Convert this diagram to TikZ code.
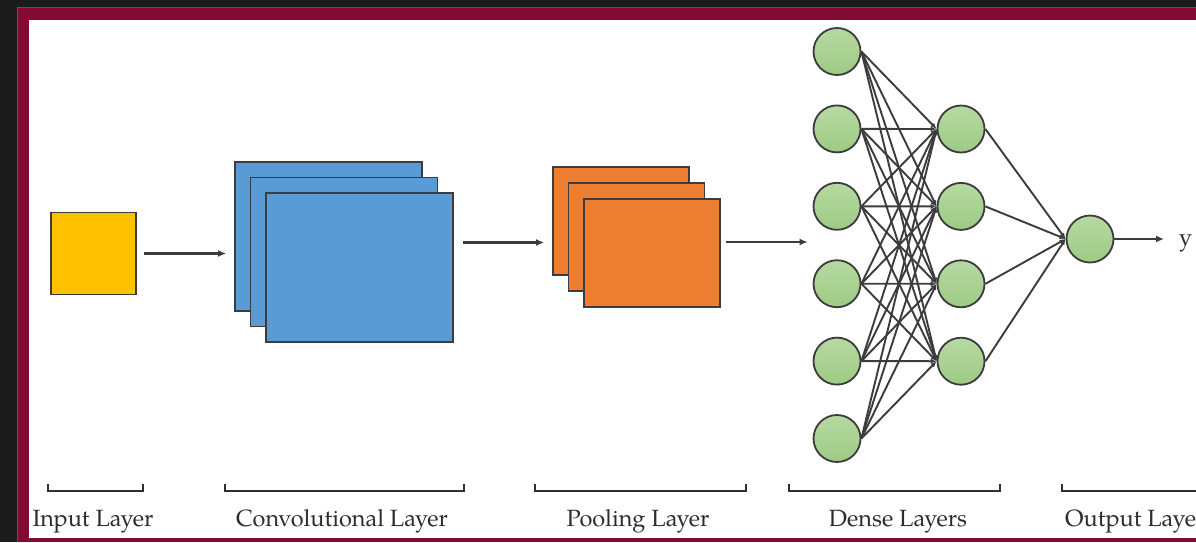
\documentclass[tikz,border=0pt]{standalone}
\usepackage{fontspec}
\setmainfont{TeX Gyre Pagella}
\usetikzlibrary{arrows.meta,positioning,calc}
\definecolor{FrameDark}{RGB}{27, 27, 27}
\definecolor{FrameRed}{RGB}{133, 10, 50}
\definecolor{FrameBlue}{RGB}{62, 90, 120}
\definecolor{InputYellow}{RGB}{255, 192, 0}
\definecolor{ConvBlue}{RGB}{91, 155, 213}
\definecolor{PoolOrange}{RGB}{237, 125, 49}
\definecolor{NeuronTop}{RGB}{182, 218, 162}
\definecolor{NeuronBottom}{RGB}{158, 202, 132}
\definecolor{LineGray}{RGB}{60, 60, 60}
\definecolor{TextGray}{RGB}{45, 45, 45}

\begin{document}
\begin{tikzpicture}[
    x=1pt, y=-1pt,
    layer/.style={draw=LineGray, line width=1.8pt, rectangle, inner sep=0pt},
    inputbox/.style={layer, fill=InputYellow, minimum width=85pt, minimum height=82pt},
    convbox/.style={layer, fill=ConvBlue, minimum width=187pt, minimum height=149pt},
    poolbox/.style={layer, fill=PoolOrange, minimum width=136pt, minimum height=108pt},
    neuron/.style={circle, draw=LineGray, line width=1.8pt, minimum size=47pt, inner sep=0pt, top color=NeuronTop, bottom color=NeuronBottom},
    flow/.style={draw=LineGray, line width=2.4pt, -{Latex[length=8pt,width=7pt]}},
    link/.style={draw=LineGray, line width=1.9pt, -{Latex[length=6pt,width=5pt]}},
    bracket/.style={draw=LineGray!80!black, line width=2.4pt},
    lbl/.style={font=\fontsize{23.5}{28}\selectfont, text=TextGray, inner sep=0pt},
  ]
    % frame
    \useasboundingbox (0,0) rectangle (1196,542);
    \clip (0,0) rectangle (1196,542);
    \fill[FrameDark] (0,0) rectangle (1196,542);
    \fill[FrameRed] (18,7.5) rectangle (1196,542);
    \draw[FrameBlue, line width=1pt] (17.5,542) |- (1196,7.5);
    \fill[white] (29,20) rectangle (1196,538);

    % input and feature maps
    \node[inputbox] (input) at (93.5,253.5) {};

    \node[convbox] (conv1) at (328.5,236.5) {};
    \node[convbox] (conv2) at ($(conv1)+(15.5,15.5)$) {};
    \node[convbox] (conv3) at ($(conv2)+(15.5,15.5)$) {};

    \node[poolbox] (pool1) at (621,221) {};
    \node[poolbox] (pool2) at ($(pool1)+(15.5,16)$) {};
    \node[poolbox] (pool3) at ($(pool2)+(15.5,16)$) {};

    % dense layers
    \foreach \i in {1,...,6}
      \node[neuron] (h\i) at (837,{51.5+77.4*(\i-1)}) {};
    \foreach \j in {1,...,4}
      \node[neuron] (g\j) at (961,{129+77.4*(\j-1)}) {};
    \node[neuron] (out) at (1090,239) {};
    \node[lbl, anchor=base west] (ylab) at (1179,245) {y};

    % arrows between stages
    \draw[flow, shorten <=7pt, shorten >=8pt] (input.east) -- (input.east -| conv1.west);
    \draw[flow, shorten <=9pt, shorten >=8pt] ([yshift=25pt]conv3.east) -- ([yshift=25pt]conv3.east -| pool1.west);
    \draw[flow, shorten <=5pt, shorten >=5pt] ([yshift=11pt]pool3.east) -- ([yshift=11pt]pool3.east -| h1.west);

    \foreach \i in {1,...,6}
      \foreach \j in {1,...,4}
        \draw[link] (h\i.east) -- (g\j.west);
    \foreach \j in {1,...,4}
      \draw[link] (g\j.east) -- (out.west);
    \draw[flow, shorten >=15pt] (out.east) -- (out.east -| ylab.west);

    % brackets and captions
    \draw[bracket] (48,484) |- (143,491) -- (143,484);
    \draw[bracket] (225,484) |- (464,491) -- (464,484);
    \draw[bracket] (535,484) |- (746,491) -- (746,484);
    \draw[bracket] (789,484) |- (1000,491) -- (1000,484);
    \draw[bracket] (1062,484) |- (1210,491);

    \node[lbl, anchor=base] (cap-in) at (93,526) {Input Layer};
    \node[lbl, anchor=base] (cap-conv) at (342,526) {Convolutional Layer};
    \node[lbl, anchor=base] (cap-pool) at (638,526) {Pooling Layer};
    \node[lbl, anchor=base] (cap-dense) at (898,526) {Dense Layers};
    \node[lbl, anchor=base west] (cap-out) at (1065,526) {Output Layer};
  \end{tikzpicture}
\end{document}
